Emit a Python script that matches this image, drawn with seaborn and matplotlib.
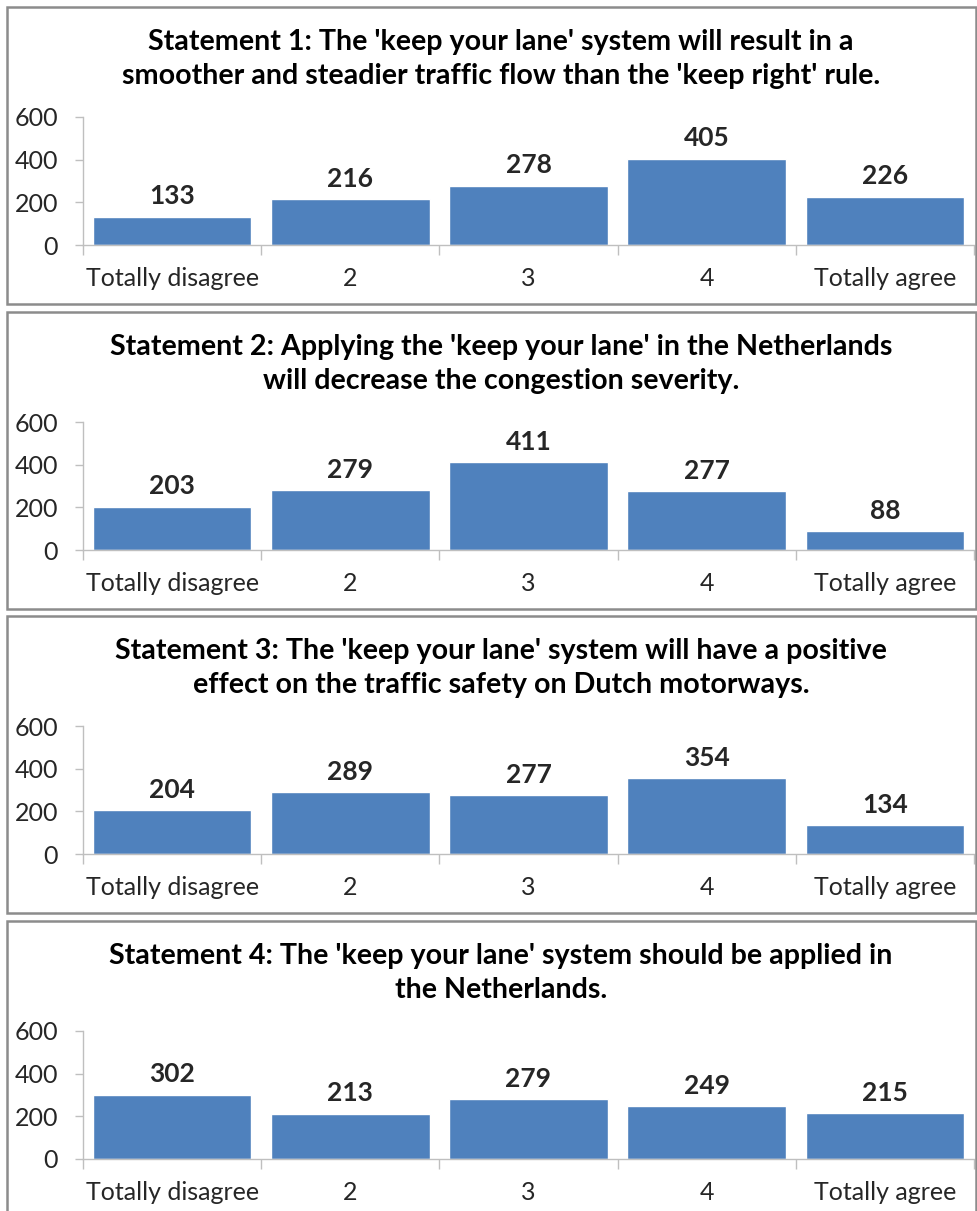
import matplotlib
matplotlib.use("Agg")
import matplotlib.pyplot as plt
from matplotlib.patches import Rectangle
import seaborn as sns
import pandas as pd

# Survey responses per statement
categories = ["Totally disagree", "2", "3", "4", "Totally agree"]
statement1 = [133, 216, 278, 405, 226]
statement2 = [203, 279, 411, 277, 88]
statement3 = [204, 289, 277, 354, 134]
statement4 = [302, 213, 279, 249, 215]
titles = [
    "Statement 1: The 'keep your lane' system will result in a\nsmoother and steadier traffic flow than the 'keep right' rule.",
    "Statement 2: Applying the 'keep your lane' in the Netherlands\nwill decrease the congestion severity.",
    "Statement 3: The 'keep your lane' system will have a positive\neffect on the traffic safety on Dutch motorways.",
    "Statement 4: The 'keep your lane' system should be applied in\nthe Netherlands.",
]
yticks = [0, 200, 400, 600]

sns.set_style("white")
plt.rcParams["font.family"] = ["Lato", "DejaVu Sans"]

W, H = 978, 1211
fig = plt.figure(figsize=(W / 100, H / 100), dpi=100)

BAR = "#4F81BD"
AXIS = "#BFBFBF"
BORDER = "#8C8C8C"

panel_tops = [7, 312, 616, 921]
panel_h = 297
series = [statement1, statement2, statement3, statement4]

def fx(px):
    return px / W

def fy(py):
    return 1 - py / H

for top, vals, title in zip(panel_tops, series, titles):
    # panel frame
    fig.patches.append(Rectangle((fx(7), fy(top + panel_h)), fx(976 - 7), panel_h / H,
                                 transform=fig.transFigure, fill=False,
                                 edgecolor=BORDER, linewidth=1.8, zorder=0))
    # two-line bold title
    fig.text(fx(501), fy(top + 52), title, ha="center", va="center",
             multialignment="center", fontsize=20.6, fontweight="bold",
             linespacing=1.36, color="black")

    ax = fig.add_axes([fx(83), fy(top + 238), fx(891), 128 / H])
    df = pd.DataFrame({"cat": categories, "n": vals})
    sns.barplot(data=df, x="cat", y="n", ax=ax, color=BAR, saturation=1,
                width=0.89, order=categories)
    ax.set_xlim(-0.5, 4.5)
    ax.set_ylim(0, 600)
    ax.set_yticks(yticks)
    ax.set_xlabel("")
    ax.set_ylabel("")
    for s in ["top", "right"]:
        ax.spines[s].set_visible(False)
    for s in ["left", "bottom"]:
        ax.spines[s].set_color(AXIS)
        ax.spines[s].set_linewidth(1.0)
    ax.tick_params(axis="y", length=6, width=1.0, color=AXIS, pad=12,
                   labelsize=18, left=True)
    ax.set_xticks(range(len(categories)))
    ax.set_xticklabels(categories)
    ax.tick_params(axis="x", which="major", length=0, pad=16, labelsize=18)
    # category separators below the axis line
    ax.set_xticks([i - 0.5 for i in range(len(categories) + 1)], minor=True)
    ax.tick_params(axis="x", which="minor", length=7, width=1.0, color=AXIS,
                   bottom=True)
    ax.patch.set_alpha(0)
    for c in ax.containers:
        ax.bar_label(c, labels=[str(v) for v in vals], padding=6,
                     fontsize=19, fontweight="bold")

fig.savefig("out.png", dpi=100)
